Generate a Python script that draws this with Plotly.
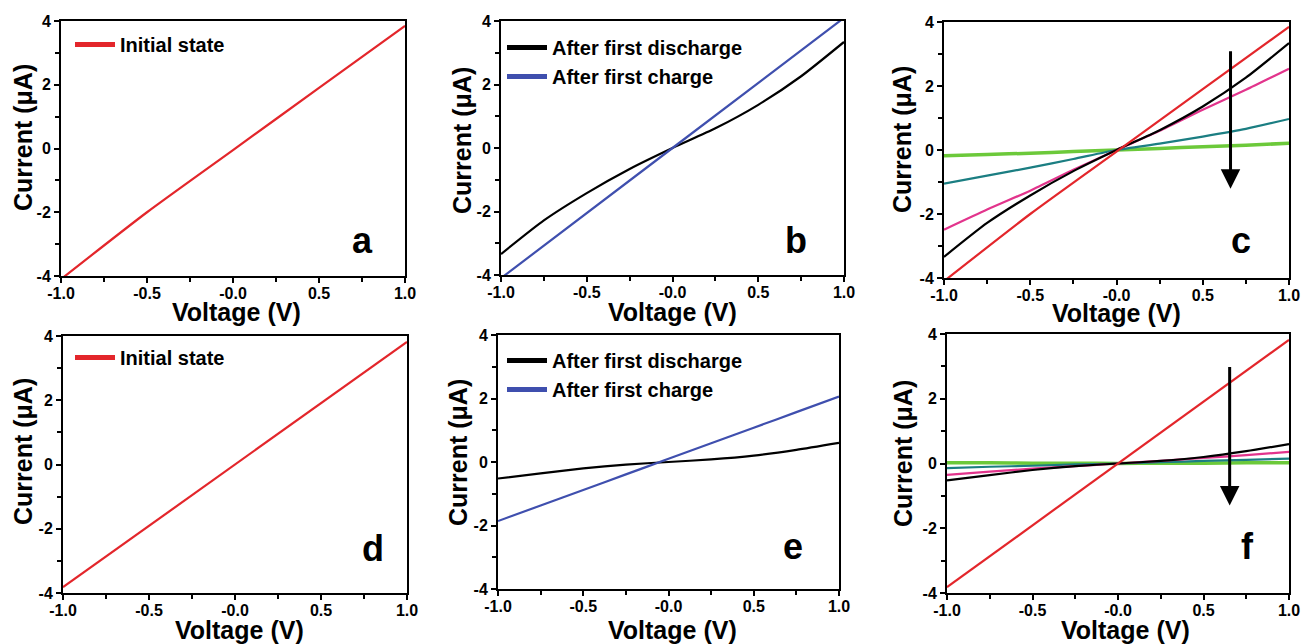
import plotly.graph_objects as go

# ---------------- data ----------------
V5 = [-1.0, -0.5, 0.0, 0.5, 1.0]
V9 = [-1.0, -0.75, -0.5, -0.25, 0.0, 0.25, 0.5, 0.75, 1.0]
V3 = [-1.0, 0.0, 1.0]
V2 = [-1.0, 1.0]

# panel a / c : initial state (top row)
init_top = [-4.1, -2.0, -0.05, 1.9, 3.85]
# panel b / c : after first discharge (top row)
dis_top = [-3.34, -2.28, -1.42, -0.66, 0.0, 0.62, 1.36, 2.26, 3.34]
# panel b : after first charge (top row)
chg_top = [-4.1, 0.0, 4.1]
# panel c : further cycles
c_mag = [-2.49, -1.86, -1.27, -0.62, 0.0, 0.6, 1.26, 1.88, 2.54]
c_teal = [-1.05, -0.8, -0.55, -0.28, 0.0, 0.2, 0.42, 0.66, 0.97]
c_green = [-0.18, -0.14, -0.1, -0.05, 0.0, 0.05, 0.1, 0.15, 0.21]

# panel d / f : initial state (bottom row)
init_bot = [-3.82, 3.82]
# panel e / f : after first discharge (bottom row)
dis_bot = [-0.52, -0.36, -0.2, -0.08, 0.0, 0.08, 0.2, 0.38, 0.6]
# panel e : after first charge (bottom row)
chg_bot = [-1.86, -1.37, -0.88, -0.39, 0.1, 0.59, 1.08, 1.57, 2.06]
# panel f : further cycles
f_mag = [-0.35, -0.25, -0.16, -0.08, 0.0, 0.08, 0.17, 0.26, 0.36]
f_teal = [-0.14, -0.1, -0.07, -0.03, 0.0, 0.04, 0.08, 0.11, 0.15]
f_green = [0.02, 0.02, 0.01, 0.01, 0.0, 0.01, 0.01, 0.02, 0.02]

x_tickvals = [-1.0, -0.5, 0.0, 0.5, 1.0]
x_ticktext = ["-1.0", "-0.5", "-0.0", "0.5", "1.0"]
y_tickvals = [-4, -2, 0, 2, 4]
y_ticktext = ["-4", "-2", "0", "2", "4"]
x_title = "Voltage (V)"
y_title = "Current (μA)"

panel_letters = ["a", "b", "c", "d", "e", "f"]
letter_pos = [(0.75, -2.9), (0.72, -2.9), (0.72, -2.83), (0.8, -2.6), (0.73, -2.65), (0.76, -2.55)]
arrow_c = (0.661, 3.13, -1.21)
arrow_f = (0.653, 3.03, -1.3)

# ---------------- style ----------------
RED = "#e3262b"
BLACK = "#000000"
BLUE = "#3f4fae"
MAGENTA = "#e2348c"
TEAL = "#1b7e82"
GREEN = "#6cc93a"
FONT = "Liberation Sans"

W, H = 1303, 644
# plot-area pixel boxes (left, right, top, bottom)
boxes = [
    (61, 405, 21, 276),
    (501, 844, 21, 275),
    (944, 1289, 22, 278),
    (63, 407, 336, 593),
    (498, 839, 335, 589),
    (947, 1289, 334, 593),
]
# axis-title centres in pixels: (x-title x, x-title y, y-title x, y-title y)
title_px = [
    (236, 312, 23, 138),
    (672, 312, 462, 140),
    (1116, 313, 902, 140),
    (239, 630, 23, 452),
    (672, 630, 458, 453),
    (1125, 630, 903, 454),
]
# legend anchor positions in pixels (left, top)
legend_px = [(70, 25), (502, 28), (70, 338), (502, 341)]

fig = go.Figure()

def add_line(i, x, y, color, width=2.2, name=None, legend=None):
    sfx = "" if i == 1 else str(i)
    fig.add_trace(go.Scatter(x=x, y=y, mode="lines",
                             line=dict(color=color, width=width, shape="spline", smoothing=0.6),
                             xaxis="x" + sfx, yaxis="y" + sfx, showlegend=False,
                             hoverinfo="skip"))
    if name is not None:
        fig.add_trace(go.Scatter(x=[None], y=[None], mode="lines", line=dict(color=color, width=5),
                                 xaxis="x" + sfx, yaxis="y" + sfx, name=name, legend=legend,
                                 showlegend=True))

# a
add_line(1, V5, init_top, RED, name="Initial state", legend="legend")
# b
add_line(2, V9, dis_top, BLACK, name="After first discharge", legend="legend2")
add_line(2, V3, chg_top, BLUE, name="After first charge", legend="legend2")
# c
add_line(3, V9, c_green, GREEN, width=3.5)
add_line(3, V9, c_teal, TEAL)
add_line(3, V9, c_mag, MAGENTA)
add_line(3, V9, dis_top, BLACK)
add_line(3, V5, init_top, RED)
# d
add_line(4, V2, init_bot, RED, name="Initial state", legend="legend3")
# e
add_line(5, V9, dis_bot, BLACK, name="After first discharge", legend="legend4")
add_line(5, V9, chg_bot, BLUE, name="After first charge", legend="legend4")
# f
add_line(6, V9, f_green, GREEN, width=3.5)
add_line(6, V9, f_teal, TEAL)
add_line(6, V9, f_mag, MAGENTA)
add_line(6, V9, dis_bot, BLACK)
add_line(6, V2, init_bot, RED)

layout = dict(width=W, height=H, margin=dict(l=0, r=0, t=0, b=0, autoexpand=False),
              paper_bgcolor="white", plot_bgcolor="white",
              font=dict(family=FONT, color="black"))

tickfont = dict(family=FONT, size=16, color="black", weight="bold")
titlefont = dict(family=FONT, size=25, color="black", weight="bold")

annotations = []
for k, (l, r, t, b) in enumerate(boxes):
    i = k + 1
    sfx = "" if i == 1 else str(i)
    xd = [l / W, r / W]
    yd = [1 - b / H, 1 - t / H]
    layout["xaxis" + sfx] = dict(
        domain=xd, range=[-1, 1], anchor="y" + sfx, automargin=False,
        tickmode="array", tickvals=x_tickvals, ticktext=x_ticktext,
        ticks="outside", ticklen=5, tickwidth=2, tickcolor="black", ticklabelstandoff=-3,
        minor=dict(tickmode="linear", tick0=-1, dtick=0.25, ticks="outside", ticklen=4,
                   tickwidth=2, tickcolor="black", showgrid=False),
        showline=True, linewidth=2, linecolor="black", mirror=True,
        showgrid=False, zeroline=False, tickfont=tickfont,
    )
    layout["yaxis" + sfx] = dict(
        domain=yd, range=[-4, 4], anchor="x" + sfx, automargin=False,
        tickmode="array", tickvals=y_tickvals, ticktext=y_ticktext,
        ticks="outside", ticklen=5, tickwidth=2, tickcolor="black",
        minor=dict(tickmode="linear", tick0=-4, dtick=1, ticks="outside", ticklen=4,
                   tickwidth=2, tickcolor="black", showgrid=False),
        showline=True, linewidth=2, linecolor="black", mirror=True,
        showgrid=False, zeroline=False, tickfont=tickfont,
    )
    xtx, xty, ytx, yty = title_px[k]
    annotations.append(dict(text=x_title, x=xtx / W, y=1 - xty / H, xref="paper", yref="paper",
                            xanchor="center", yanchor="middle", showarrow=False, font=titlefont))
    annotations.append(dict(text=y_title, x=ytx / W, y=1 - yty / H, xref="paper", yref="paper",
                            xanchor="center", yanchor="middle", showarrow=False, font=titlefont,
                            textangle=-90))
    lx, ly = letter_pos[k]
    annotations.append(dict(text=panel_letters[k], x=lx, y=ly, xref="x" + sfx, yref="y" + sfx,
                            showarrow=False, font=dict(family=FONT, size=36, color="black",
                                                       weight="bold")))

for i, (ax_x, y0, y1) in ((3, arrow_c), (6, arrow_f)):
    sfx = str(i)
    annotations.append(dict(x=ax_x, y=y1, ax=ax_x, ay=y0, xref="x" + sfx, yref="y" + sfx,
                            axref="x" + sfx, ayref="y" + sfx, text="", showarrow=True,
                            arrowhead=2, arrowsize=1.3, arrowwidth=3, arrowcolor="black"))
layout["annotations"] = annotations

legfont = dict(family=FONT, size=20, color="black", weight="bold")
def leg(px, py):
    return dict(x=px / W, y=1 - py / H, xanchor="left", yanchor="top", font=legfont,
                bgcolor="rgba(0,0,0,0)", borderwidth=0, tracegroupgap=0, itemwidth=40)

for name, (px, py) in zip(["legend", "legend2", "legend3", "legend4"], legend_px):
    layout[name] = leg(px, py)
layout["showlegend"] = True

fig.update_layout(**layout)
fig.write_html("out.html", config={"displayModeBar": False},
               post_script="document.body.style.margin='0';")
